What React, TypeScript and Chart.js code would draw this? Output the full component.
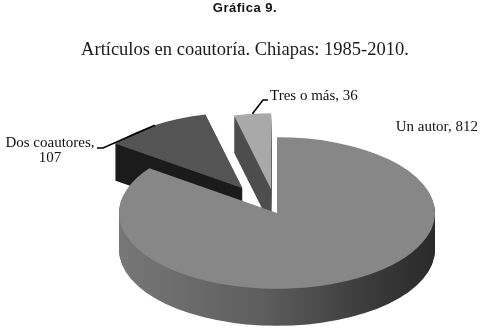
import { useEffect, useRef } from 'react';
import { Chart, registerables } from 'chart.js';

Chart.register(...registerables);

// ---- data ----
const categories = ['Un autor', 'Dos coautores', 'Tres o más'];
const values = [812, 107, 36];
const titleText = 'Gráfica 9.';
const subtitleText = 'Artículos en coautoría. Chiapas: 1985-2010.';

// ---- style ----
const topColors = ['#878787', '#545454', '#a9a9a9'];
const sideColors = ['gradient', '#1c1c1c', '#4e4e4e'];
const explodeDist = [0, 62, 50];
const TILT = 0.48;
const DEPTH = 37;
const RADIUS = 158;

type LabelLayout = {
  align: 'left' | 'right' | 'center';
  x: number;
  y: number;
  wrap?: boolean;
  lineGap?: number;
  leader?: number[][];
};
const labelLayout: LabelLayout[] = [
  { align: 'right', x: 478, y: 127 },
  { align: 'center', x: 50, y: 143, wrap: true, lineGap: 15.5, leader: [[103, 148], [97, 148]] },
  { align: 'left', x: 270, y: 96, leader: [[263, 100], [268, 100]] },
];

function centerOf(chart: any) {
  const a = chart.chartArea;
  return { cx: (a.left + a.right) / 2, cy: (a.top + a.bottom) / 2 };
}

function explodedCenter(arc: any, e: number) {
  const mid = (arc.startAngle + arc.endAngle) / 2;
  return { x: arc.x + Math.cos(mid) * e, y: arc.y + Math.sin(mid) * e };
}

const pie3d = {
  id: 'pie3d',
  beforeDatasetsDraw(chart: any, _args: any, opts: any) {
    const ctx = chart.ctx as CanvasRenderingContext2D;
    const meta = chart.getDatasetMeta(0);
    const { cx, cy } = centerOf(chart);
    const ex: number[] = opts.explode;
    const sides: string[] = opts.sideColors;
    const grad = ctx.createLinearGradient(cx - RADIUS, 0, cx + RADIUS, 0);
    grad.addColorStop(0, '#777777');
    grad.addColorStop(0.45, '#5e5e5e');
    grad.addColorStop(0.8, '#3a3a3a');
    grad.addColorStop(1, '#2a2a2a');
    const order: number[] = opts.drawOrder;
    for (const i of order) {
      const arc = meta.data[i];
      if (!arc) continue;
      const c = explodedCenter(arc, ex[i]);
      ctx.fillStyle = sides[i] === 'gradient' ? grad : sides[i];
      for (let d = DEPTH; d >= 1; d--) {
        ctx.save();
        ctx.translate(0, d + cy * (1 - TILT));
        ctx.scale(1, TILT);
        ctx.beginPath();
        ctx.moveTo(c.x, c.y);
        ctx.arc(c.x, c.y, arc.outerRadius, arc.startAngle, arc.endAngle);
        ctx.closePath();
        ctx.fill();
        ctx.restore();
      }
    }
    meta.data.forEach((arc: any, i: number) => {
      const c = explodedCenter(arc, ex[i]);
      arc._bx = arc.x;
      arc._by = arc.y;
      arc.x = c.x;
      arc.y = c.y;
    });
    ctx.save();
    ctx.translate(0, cy * (1 - TILT));
    ctx.scale(1, TILT);
  },
  afterDatasetsDraw(chart: any) {
    chart.ctx.restore();
    const meta = chart.getDatasetMeta(0);
    meta.data.forEach((arc: any) => {
      if (arc._bx !== undefined) {
        arc.x = arc._bx;
        arc.y = arc._by;
        arc._bx = undefined;
      }
    });
  },
};

const pieText = {
  id: 'pieText',
  afterDraw(chart: any, _args: any, opts: any) {
    const ctx = chart.ctx as CanvasRenderingContext2D;
    const meta = chart.getDatasetMeta(0);
    const { cy } = centerOf(chart);
    const ex: number[] = opts.explode;
    ctx.save();
    // titles
    ctx.textAlign = 'center';
    ctx.textBaseline = 'middle';
    ctx.fillStyle = '#111';
    ctx.font = 'bold 13px "Liberation Sans", Arial, sans-serif';
    (ctx as any).letterSpacing = '0.5px';
    ctx.fillText(titleText, 245, 8);
    (ctx as any).letterSpacing = '0px';
    ctx.fillStyle = '#1a1a1a';
    ctx.font = '18.5px "Liberation Serif", "Times New Roman", serif';
    ctx.fillText(subtitleText, 245, 50);

    // slice labels
    ctx.font = '15px "Liberation Serif", "Times New Roman", serif';
    ctx.fillStyle = '#111';
    ctx.strokeStyle = '#000';
    ctx.lineWidth = 1.6;
    labelLayout.forEach((lay, i) => {
      const arc = meta.data[i];
      if (!arc) return;
      if (lay.leader) {
        const c = explodedCenter(arc, ex[i]);
        const mid = (arc.startAngle + arc.endAngle) / 2;
        const ax = c.x + Math.cos(mid) * arc.outerRadius;
        const ay = cy + (c.y + Math.sin(mid) * arc.outerRadius - cy) * TILT;
        ctx.beginPath();
        ctx.moveTo(ax, ay);
        lay.leader.forEach((p) => ctx.lineTo(p[0], p[1]));
        ctx.stroke();
      }
      ctx.textAlign = lay.align;
      ctx.textBaseline = 'middle';
      const lines = lay.wrap
        ? [categories[i] + ',', String(values[i])]
        : [categories[i] + ', ' + values[i]];
      lines.forEach((t, k) => ctx.fillText(t, lay.x, lay.y + k * (lay.lineGap || 16)));
    });
    ctx.restore();
  },
};

export default function App() {
  const ref = useRef<HTMLCanvasElement | null>(null);
  useEffect(() => {
    if (!ref.current) return;
    const chart = new Chart(ref.current, {
      type: 'pie',
      data: {
        labels: categories,
        datasets: [
          {
            data: values,
            backgroundColor: topColors,
            borderWidth: 0,
            clip: false,
          } as any,
        ],
      },
      options: {
        responsive: false,
        animation: false,
        events: [],
        radius: RADIUS,
        layout: { padding: { left: 72, right: 0, top: 106, bottom: 13 } },
        plugins: {
          legend: { display: false },
          tooltip: { enabled: false },
          title: { display: false },
          pie3d: { explode: explodeDist, sideColors, drawOrder: [2, 1, 0] },
          pieText: { explode: explodeDist },
        } as any,
      } as any,
      plugins: [pie3d, pieText],
    });
    return () => chart.destroy();
  }, []);
  return (
    <div style={{ position: 'absolute', left: 0, top: 0, width: 482, height: 333, background: '#fff' }}>
      <canvas ref={ref} width={482} height={333} style={{ display: 'block' }} />
    </div>
  );
}
